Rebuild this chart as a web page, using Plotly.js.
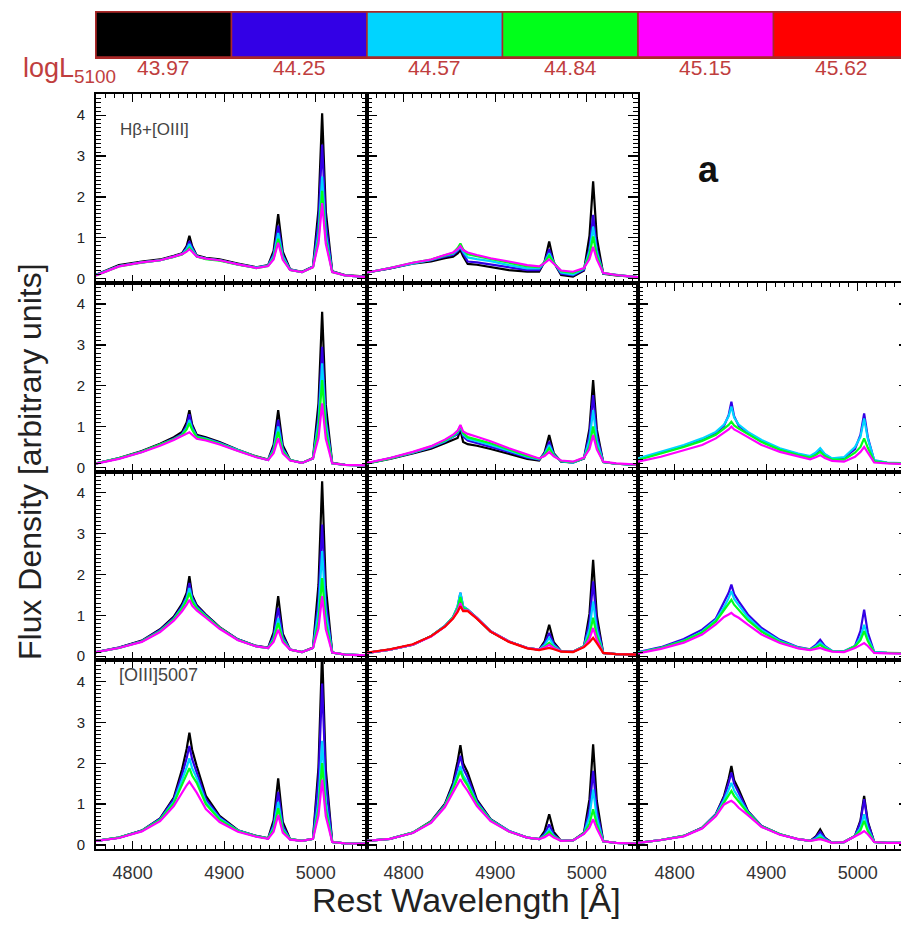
<!DOCTYPE html>
<html>
<head>
<meta charset="utf-8">
<script src="https://cdn.plot.ly/plotly-3.0.1.min.js"></script>
<style>
  html, body { margin: 0; padding: 0; background: #fff; overflow: hidden; }
  #chart { width: 912px; height: 931px; }
</style>
</head>
<body>
<div id="chart"></div>
<script>
// Rest-frame wavelength grid (Angstrom) shared by every composite spectrum
const WAVE = [4760,4785,4810,4830,4845,4854,4859,4862,4865,4870,4880,4895,4915,4935,4948,4954,4959,4964,4972,4985,4997,5003,5007,5011,5018,5032,5056];

// Luminosity bins of the colour key
const LOGL = ['43.97','44.25','44.57','44.84','45.15','45.62'];
const BIN_COLORS = ['#000000','#3300e6','#00d4ff','#00ff1a','#ff00ff','#ff0000'];

// Composite spectra, one array per luminosity bin (k=43.97, b=44.25, c=44.57, g=44.84, m=45.15, r=45.62)
// Row 1
const r1c1_k = [0.10,0.33,0.42,0.47,0.56,0.62,0.80,1.05,0.80,0.57,0.51,0.47,0.37,0.28,0.33,0.68,1.58,0.66,0.23,0.17,0.30,1.69,4.05,1.65,0.18,0.09,0.05];
const r1c1_b = [0.09,0.31,0.40,0.45,0.54,0.60,0.76,0.92,0.76,0.55,0.49,0.45,0.35,0.27,0.32,0.60,1.30,0.58,0.22,0.16,0.29,1.40,3.28,1.37,0.17,0.08,0.04];
const r1c1_c = [0.09,0.31,0.40,0.45,0.54,0.60,0.72,0.85,0.72,0.55,0.49,0.45,0.35,0.27,0.32,0.55,1.12,0.54,0.22,0.16,0.29,1.11,2.50,1.09,0.17,0.08,0.04];
const r1c1_g = [0.08,0.30,0.39,0.45,0.53,0.59,0.68,0.76,0.68,0.54,0.48,0.44,0.34,0.26,0.31,0.50,0.98,0.49,0.21,0.16,0.28,0.97,2.15,0.95,0.16,0.08,0.04];
const r1c1_m = [0.08,0.30,0.40,0.45,0.54,0.60,0.66,0.72,0.66,0.54,0.49,0.45,0.35,0.26,0.31,0.47,0.88,0.46,0.21,0.16,0.28,0.86,1.85,0.85,0.16,0.08,0.04];

const r1c2_k = [0.15,0.25,0.37,0.42,0.50,0.54,0.62,0.70,0.55,0.36,0.34,0.29,0.21,0.17,0.17,0.42,0.91,0.40,0.09,0.05,0.20,1.05,2.38,1.00,0.12,0.08,0.04];
const r1c2_b = [0.15,0.25,0.38,0.45,0.54,0.58,0.68,0.76,0.62,0.42,0.40,0.35,0.27,0.21,0.21,0.42,0.72,0.40,0.12,0.08,0.22,0.75,1.56,0.73,0.13,0.09,0.03];
const r1c2_c = [0.15,0.26,0.38,0.46,0.56,0.61,0.70,0.78,0.66,0.52,0.48,0.43,0.33,0.25,0.25,0.40,0.62,0.39,0.15,0.10,0.24,0.67,1.27,0.65,0.13,0.09,0.04];
const r1c2_g = [0.15,0.26,0.39,0.47,0.57,0.63,0.75,0.86,0.72,0.60,0.55,0.48,0.40,0.30,0.28,0.40,0.56,0.39,0.18,0.14,0.25,0.58,1.03,0.57,0.14,0.09,0.04];
const r1c2_m = [0.15,0.26,0.39,0.47,0.58,0.64,0.72,0.80,0.70,0.64,0.58,0.50,0.42,0.33,0.30,0.38,0.47,0.37,0.20,0.17,0.26,0.48,0.78,0.47,0.14,0.09,0.04];

// Row 2
const r2c1_k = [0.10,0.23,0.40,0.58,0.74,0.87,1.10,1.40,1.05,0.80,0.74,0.62,0.43,0.27,0.19,0.56,1.40,0.54,0.18,0.11,0.23,1.57,3.81,1.53,0.11,0.06,0.05];
const r2c1_b = [0.10,0.22,0.39,0.56,0.71,0.82,1.02,1.30,1.00,0.77,0.71,0.60,0.42,0.26,0.18,0.49,1.16,0.47,0.18,0.11,0.22,1.25,2.95,1.22,0.10,0.06,0.05];
const r2c1_c = [0.10,0.22,0.38,0.55,0.69,0.80,0.96,1.16,0.95,0.75,0.70,0.59,0.42,0.26,0.18,0.44,1.00,0.43,0.18,0.11,0.22,1.10,2.55,1.08,0.10,0.06,0.05];
const r2c1_g = [0.10,0.22,0.38,0.55,0.69,0.79,0.93,1.08,0.92,0.74,0.69,0.58,0.41,0.26,0.18,0.40,0.87,0.39,0.18,0.11,0.22,0.94,2.14,0.92,0.10,0.06,0.05];
const r2c1_m = [0.09,0.21,0.37,0.53,0.67,0.76,0.81,0.86,0.80,0.70,0.66,0.56,0.40,0.25,0.18,0.35,0.71,0.34,0.17,0.11,0.22,0.72,1.57,0.70,0.10,0.06,0.05];

const r2c2_k = [0.10,0.21,0.34,0.46,0.59,0.68,0.72,0.92,0.62,0.57,0.53,0.45,0.33,0.21,0.17,0.37,0.79,0.35,0.14,0.12,0.22,0.95,2.14,0.93,0.13,0.09,0.06];
const r2c2_b = [0.10,0.22,0.36,0.49,0.63,0.74,0.82,0.98,0.76,0.66,0.60,0.51,0.38,0.24,0.19,0.34,0.63,0.32,0.15,0.12,0.22,0.81,1.77,0.79,0.13,0.09,0.06];
const r2c2_c = [0.10,0.22,0.36,0.50,0.64,0.76,0.86,1.00,0.80,0.70,0.64,0.55,0.41,0.26,0.20,0.32,0.55,0.31,0.15,0.12,0.23,0.67,1.40,0.66,0.13,0.09,0.06];
const r2c2_g = [0.10,0.22,0.37,0.51,0.66,0.78,0.88,1.02,0.84,0.74,0.68,0.59,0.44,0.28,0.21,0.30,0.47,0.29,0.16,0.13,0.23,0.52,1.00,0.51,0.13,0.09,0.06];
const r2c2_m = [0.11,0.23,0.38,0.52,0.68,0.80,0.90,1.04,0.88,0.82,0.75,0.64,0.47,0.31,0.22,0.28,0.38,0.27,0.17,0.14,0.24,0.45,0.79,0.44,0.14,0.10,0.07];

const r2c3_b = [0.20,0.36,0.52,0.68,0.84,1.02,1.28,1.61,1.25,1.02,0.84,0.64,0.45,0.32,0.26,0.34,0.45,0.32,0.21,0.23,0.45,0.80,1.32,0.74,0.17,0.11,0.09];
const r2c3_c = [0.22,0.38,0.55,0.71,0.87,1.05,1.25,1.49,1.22,1.05,0.87,0.67,0.47,0.34,0.28,0.36,0.47,0.33,0.22,0.25,0.50,0.75,1.20,0.70,0.18,0.12,0.10];
const r2c3_g = [0.18,0.34,0.50,0.65,0.80,0.95,1.04,1.12,1.03,0.95,0.82,0.62,0.43,0.30,0.24,0.30,0.38,0.28,0.19,0.19,0.36,0.50,0.71,0.48,0.15,0.11,0.09];
const r2c3_m = [0.14,0.26,0.42,0.55,0.71,0.85,0.93,1.00,0.93,0.87,0.75,0.55,0.38,0.26,0.20,0.25,0.30,0.23,0.16,0.14,0.26,0.38,0.50,0.36,0.12,0.10,0.08];

// Row 3
const r3c1_k = [0.10,0.21,0.38,0.66,0.97,1.28,1.55,1.96,1.50,1.25,1.02,0.71,0.41,0.25,0.21,0.58,1.47,0.55,0.16,0.10,0.21,1.75,4.28,1.70,0.09,0.04,0.02];
const r3c1_b = [0.10,0.21,0.37,0.64,0.94,1.23,1.47,1.79,1.44,1.22,1.00,0.70,0.41,0.25,0.20,0.50,1.18,0.48,0.16,0.10,0.20,1.35,3.22,1.31,0.09,0.04,0.02];
const r3c1_c = [0.10,0.20,0.36,0.62,0.91,1.19,1.41,1.67,1.39,1.19,0.98,0.69,0.40,0.24,0.20,0.43,0.93,0.42,0.16,0.10,0.20,1.10,2.57,1.07,0.09,0.04,0.02];
const r3c1_g = [0.10,0.20,0.36,0.61,0.90,1.16,1.36,1.55,1.34,1.17,0.97,0.69,0.40,0.24,0.20,0.40,0.81,0.39,0.16,0.10,0.20,0.85,1.91,0.83,0.09,0.04,0.02];
const r3c1_m = [0.10,0.20,0.35,0.59,0.87,1.10,1.26,1.38,1.24,1.12,0.94,0.67,0.39,0.24,0.20,0.35,0.65,0.34,0.16,0.10,0.20,0.68,1.47,0.66,0.09,0.04,0.02];

const r3c2_k = [0.08,0.16,0.28,0.49,0.73,0.94,1.15,1.45,1.15,1.12,0.93,0.60,0.36,0.20,0.16,0.36,0.77,0.34,0.12,0.11,0.24,1.04,2.36,1.00,0.08,0.05,0.04];
const r3c2_b = [0.08,0.16,0.28,0.49,0.74,0.96,1.22,1.55,1.22,1.14,0.94,0.61,0.36,0.20,0.16,0.31,0.57,0.30,0.12,0.11,0.24,0.84,1.83,0.81,0.08,0.05,0.04];
const r3c2_c = [0.08,0.16,0.28,0.49,0.74,0.96,1.22,1.55,1.22,1.14,0.94,0.61,0.36,0.20,0.16,0.27,0.45,0.26,0.12,0.11,0.24,0.66,1.34,0.64,0.08,0.05,0.04];
const r3c2_g = [0.08,0.16,0.28,0.49,0.73,0.95,1.18,1.45,1.18,1.13,0.93,0.61,0.36,0.20,0.16,0.23,0.33,0.22,0.12,0.11,0.24,0.52,0.94,0.50,0.08,0.05,0.04];
const r3c2_m = [0.08,0.16,0.28,0.48,0.72,0.93,1.12,1.30,1.12,1.12,0.93,0.61,0.36,0.20,0.16,0.21,0.28,0.20,0.12,0.11,0.23,0.42,0.69,0.40,0.08,0.05,0.04];
const r3c2_r = [0.09,0.17,0.29,0.49,0.72,0.92,1.08,1.22,1.10,1.10,0.92,0.60,0.35,0.19,0.15,0.18,0.20,0.17,0.11,0.10,0.22,0.34,0.45,0.32,0.08,0.05,0.04];

const r3c3_b = [0.10,0.22,0.42,0.65,0.92,1.32,1.55,1.75,1.52,1.34,1.02,0.69,0.40,0.22,0.17,0.27,0.40,0.25,0.13,0.12,0.25,0.62,1.14,0.58,0.10,0.08,0.07];
const r3c3_c = [0.09,0.20,0.38,0.60,0.88,1.20,1.42,1.59,1.40,1.24,0.95,0.64,0.37,0.21,0.16,0.24,0.33,0.23,0.13,0.12,0.24,0.46,0.77,0.44,0.10,0.08,0.07];
const r3c3_g = [0.08,0.20,0.37,0.58,0.85,1.12,1.28,1.38,1.26,1.14,0.88,0.60,0.35,0.20,0.16,0.21,0.28,0.20,0.12,0.11,0.24,0.39,0.61,0.37,0.09,0.08,0.07];
const r3c3_m = [0.07,0.18,0.33,0.53,0.78,0.96,1.02,1.06,1.00,0.94,0.77,0.53,0.32,0.19,0.15,0.17,0.20,0.16,0.11,0.10,0.20,0.27,0.32,0.25,0.08,0.07,0.06];

// Row 4
const r4c1_k = [0.10,0.18,0.35,0.65,1.16,1.85,2.35,2.75,2.33,1.93,1.20,0.71,0.36,0.22,0.16,0.60,1.63,0.56,0.14,0.10,0.15,1.90,4.75,1.85,0.07,0.04,0.03];
const r4c1_b = [0.10,0.18,0.35,0.64,1.12,1.72,2.12,2.42,2.10,1.78,1.12,0.68,0.35,0.22,0.16,0.50,1.30,0.47,0.14,0.10,0.15,1.60,3.95,1.55,0.07,0.04,0.03];
const r4c1_c = [0.10,0.18,0.34,0.62,1.06,1.58,1.90,2.12,1.88,1.64,1.05,0.65,0.35,0.21,0.16,0.43,1.05,0.40,0.14,0.10,0.15,1.07,2.55,1.04,0.07,0.04,0.03];
const r4c1_g = [0.10,0.18,0.34,0.61,1.02,1.48,1.72,1.88,1.70,1.52,1.00,0.62,0.34,0.21,0.16,0.38,0.90,0.36,0.14,0.10,0.15,0.88,2.00,0.86,0.07,0.04,0.03];
const r4c1_m = [0.10,0.17,0.33,0.58,0.95,1.30,1.46,1.55,1.45,1.28,0.88,0.56,0.32,0.20,0.15,0.32,0.73,0.30,0.13,0.10,0.15,0.72,1.60,0.70,0.07,0.04,0.03];

const r4c2_k = [0.10,0.15,0.30,0.58,1.00,1.52,2.05,2.44,2.00,1.77,1.11,0.63,0.34,0.18,0.14,0.34,0.75,0.32,0.10,0.11,0.30,1.12,2.46,1.08,0.09,0.05,0.03];
const r4c2_b = [0.10,0.15,0.30,0.57,0.98,1.45,1.90,2.18,1.88,1.65,1.07,0.62,0.34,0.18,0.14,0.27,0.50,0.25,0.10,0.11,0.29,0.88,1.81,0.85,0.09,0.05,0.03];
const r4c2_c = [0.10,0.15,0.30,0.56,0.96,1.40,1.72,1.93,1.70,1.52,1.03,0.61,0.34,0.18,0.14,0.23,0.38,0.22,0.10,0.11,0.28,0.70,1.36,0.67,0.09,0.05,0.03];
const r4c2_g = [0.10,0.15,0.30,0.56,0.95,1.36,1.64,1.81,1.62,1.45,1.00,0.60,0.33,0.18,0.14,0.21,0.32,0.20,0.10,0.11,0.28,0.52,0.87,0.50,0.09,0.05,0.03];
const r4c2_m = [0.10,0.15,0.29,0.54,0.92,1.28,1.50,1.61,1.48,1.32,0.95,0.58,0.33,0.18,0.14,0.19,0.26,0.18,0.10,0.11,0.27,0.42,0.63,0.40,0.09,0.05,0.03];

const r4c3_k = [0.05,0.12,0.22,0.42,0.75,1.20,1.62,1.93,1.58,1.36,0.83,0.46,0.26,0.14,0.10,0.20,0.38,0.18,0.05,0.07,0.22,0.60,1.20,0.57,0.07,0.05,0.05];
const r4c3_b = [0.05,0.12,0.22,0.42,0.75,1.16,1.52,1.77,1.50,1.28,0.82,0.46,0.26,0.14,0.10,0.18,0.32,0.17,0.05,0.07,0.22,0.56,1.12,0.54,0.07,0.05,0.05];
const r4c3_c = [0.05,0.12,0.22,0.41,0.73,1.10,1.35,1.52,1.33,1.16,0.80,0.45,0.26,0.14,0.10,0.15,0.25,0.14,0.05,0.07,0.22,0.42,0.75,0.40,0.07,0.05,0.05];
const r4c3_g = [0.05,0.12,0.22,0.41,0.72,1.05,1.22,1.32,1.20,1.05,0.78,0.45,0.26,0.14,0.10,0.13,0.18,0.12,0.05,0.07,0.22,0.36,0.59,0.34,0.07,0.05,0.05];
const r4c3_m = [0.05,0.12,0.21,0.40,0.70,0.99,1.05,1.08,1.03,0.91,0.73,0.44,0.25,0.14,0.10,0.12,0.14,0.11,0.05,0.07,0.20,0.28,0.34,0.26,0.07,0.05,0.05];

// Panel table: [row, col, list of (bin index, spectrum)]
const PANELS = [
  [1, 1, [[0, r1c1_k], [1, r1c1_b], [2, r1c1_c], [3, r1c1_g], [4, r1c1_m]]],
  [1, 2, [[0, r1c2_k], [1, r1c2_b], [2, r1c2_c], [3, r1c2_g], [4, r1c2_m]]],
  [1, 3, []],
  [2, 1, [[0, r2c1_k], [1, r2c1_b], [2, r2c1_c], [3, r2c1_g], [4, r2c1_m]]],
  [2, 2, [[0, r2c2_k], [1, r2c2_b], [2, r2c2_c], [3, r2c2_g], [4, r2c2_m]]],
  [2, 3, [[1, r2c3_b], [2, r2c3_c], [3, r2c3_g], [4, r2c3_m]]],
  [3, 1, [[0, r3c1_k], [1, r3c1_b], [2, r3c1_c], [3, r3c1_g], [4, r3c1_m]]],
  [3, 2, [[0, r3c2_k], [1, r3c2_b], [2, r3c2_c], [3, r3c2_g], [4, r3c2_m], [5, r3c2_r]]],
  [3, 3, [[1, r3c3_b], [2, r3c3_c], [3, r3c3_g], [4, r3c3_m]]],
  [4, 1, [[0, r4c1_k], [1, r4c1_b], [2, r4c1_c], [3, r4c1_g], [4, r4c1_m]]],
  [4, 2, [[0, r4c2_k], [1, r4c2_b], [2, r4c2_c], [3, r4c2_g], [4, r4c2_m]]],
  [4, 3, [[0, r4c3_k], [1, r4c3_b], [2, r4c3_c], [3, r4c3_g], [4, r4c3_m]]]
];

// Page geometry (pixels) of the plotting area
const W = 912, H = 931;
const LEFT = 96, RIGHT = 909, TOP = 12, BOTTOM = 849;
const GRID_TOP = 94, ROW_H = 188.75;
const fx = p => (p - LEFT) / (RIGHT - LEFT);
const fy = p => (BOTTOM - p) / (BOTTOM - TOP);

const FONT = 'Liberation Sans, Arial, Helvetica, sans-serif';
const KEY_RED = 'rgb(192,62,62)';

const traces = [];
const layout = {
  width: W, height: H,
  margin: {l: LEFT, r: W - RIGHT, t: TOP, b: H - BOTTOM, pad: 0},
  paper_bgcolor: '#fff', plot_bgcolor: '#fff',
  showlegend: false,
  bargap: 0,
  font: {family: FONT},
  annotations: []
};

PANELS.forEach(([row, col, series]) => {
  const n = (row - 1) * 3 + col;
  const sx = n === 1 ? '' : String(n);
  const top = GRID_TOP + (row - 1) * ROW_H;
  layout['xaxis' + sx] = {
    domain: [(col - 1) / 3, col / 3],
    range: [4760, 5056],
    anchor: 'y' + sx,
    tick0: 4800, dtick: 100,
    ticks: 'inside', ticklen: 8, tickwidth: 1.3, tickcolor: '#000',
    minor: {dtick: 10, ticks: 'inside', ticklen: 4, tickwidth: 1, tickcolor: '#000'},
    showline: true, linewidth: 2, linecolor: '#000', mirror: 'allticks',
    showgrid: false, zeroline: false,
    showticklabels: row === 4,
    ticklabelstandoff: 6,
    tickfont: {size: 18, color: '#333', family: FONT}
  };
  layout['yaxis' + sx] = {
    domain: [fy(top + ROW_H), fy(top)],
    range: [-0.1, 4.52],
    anchor: 'x' + sx,
    tick0: 0, dtick: 1,
    ticks: 'inside', ticklen: 10, tickwidth: 1.3, tickcolor: '#000',
    minor: {dtick: 0.1, ticks: 'inside', ticklen: 5, tickwidth: 1, tickcolor: '#000'},
    showline: true, linewidth: 2, linecolor: '#000', mirror: 'allticks',
    showgrid: false, zeroline: false,
    showticklabels: col === 1,
    ticklabelstandoff: 6,
    tickfont: {size: 15, color: '#222', family: FONT}
  };
  series.forEach(([bin, flux]) => {
    traces.push({
      type: 'scatter', mode: 'lines',
      x: WAVE, y: flux,
      xaxis: 'x' + sx, yaxis: 'y' + sx,
      line: {color: BIN_COLORS[bin], width: 2.2},
      hoverinfo: 'skip'
    });
  });
});

// Colour key of the luminosity bins
const BIN_POS = LOGL.map((_, i) => i);
traces.push({
  type: 'bar',
  x: BIN_POS,
  y: LOGL.map(() => 1),
  width: 1,
  marker: {color: BIN_COLORS, line: {color: 'rgb(170,40,40)', width: 1.5}},
  xaxis: 'x13', yaxis: 'y13',
  hoverinfo: 'skip'
});
layout.xaxis13 = {
  domain: [0, 1], range: [-0.5, 5.5], anchor: 'y13',
  showticklabels: false, ticks: '', showgrid: false, zeroline: false,
  showline: true, mirror: true, linecolor: 'rgb(170,40,40)', linewidth: 1.5
};
layout.yaxis13 = {
  domain: [fy(57), 1], range: [0, 1], anchor: 'x13',
  showticklabels: false, ticks: '', showgrid: false, zeroline: false,
  showline: true, mirror: true, linecolor: 'rgb(170,40,40)', linewidth: 1.5
};

// Bin values written under each key box
LOGL.forEach((label, i) => {
  layout.annotations.push({
    text: label, x: BIN_POS[i], xref: 'x13', y: fy(67), yref: 'paper',
    xanchor: 'center', yanchor: 'middle', showarrow: false,
    font: {size: 21, color: KEY_RED, family: FONT}
  });
});

const note = (text, x, y, opts) => Object.assign({
  text, x: fx(x), y: fy(y), xref: 'paper', yref: 'paper',
  showarrow: false, xanchor: 'left', yanchor: 'middle'
}, opts);

layout.annotations.push(
  note('logL<sub>5100</sub>', 21, 70, {font: {size: 27, color: KEY_RED, family: FONT}}),
  note('Hβ+[OIII]', 118, 129, {font: {size: 17, color: '#444', family: FONT}}),
  note('[OIII]5007', 117, 675, {font: {size: 18, color: '#444', family: FONT}}),
  note('<b>a</b>', 708, 170, {xanchor: 'center', font: {size: 36, color: '#111', family: FONT}}),
  note('Flux Density [arbitrary units]', 30, 462, {xanchor: 'center', textangle: -90, font: {size: 32, color: '#222', family: FONT}}),
  note('Rest Wavelength [Å]', 466, 900, {xanchor: 'center', font: {size: 34, color: '#222', family: FONT}})
);

Plotly.newPlot('chart', traces, layout, {displayModeBar: false, staticPlot: true});
</script>
</body>
</html>
